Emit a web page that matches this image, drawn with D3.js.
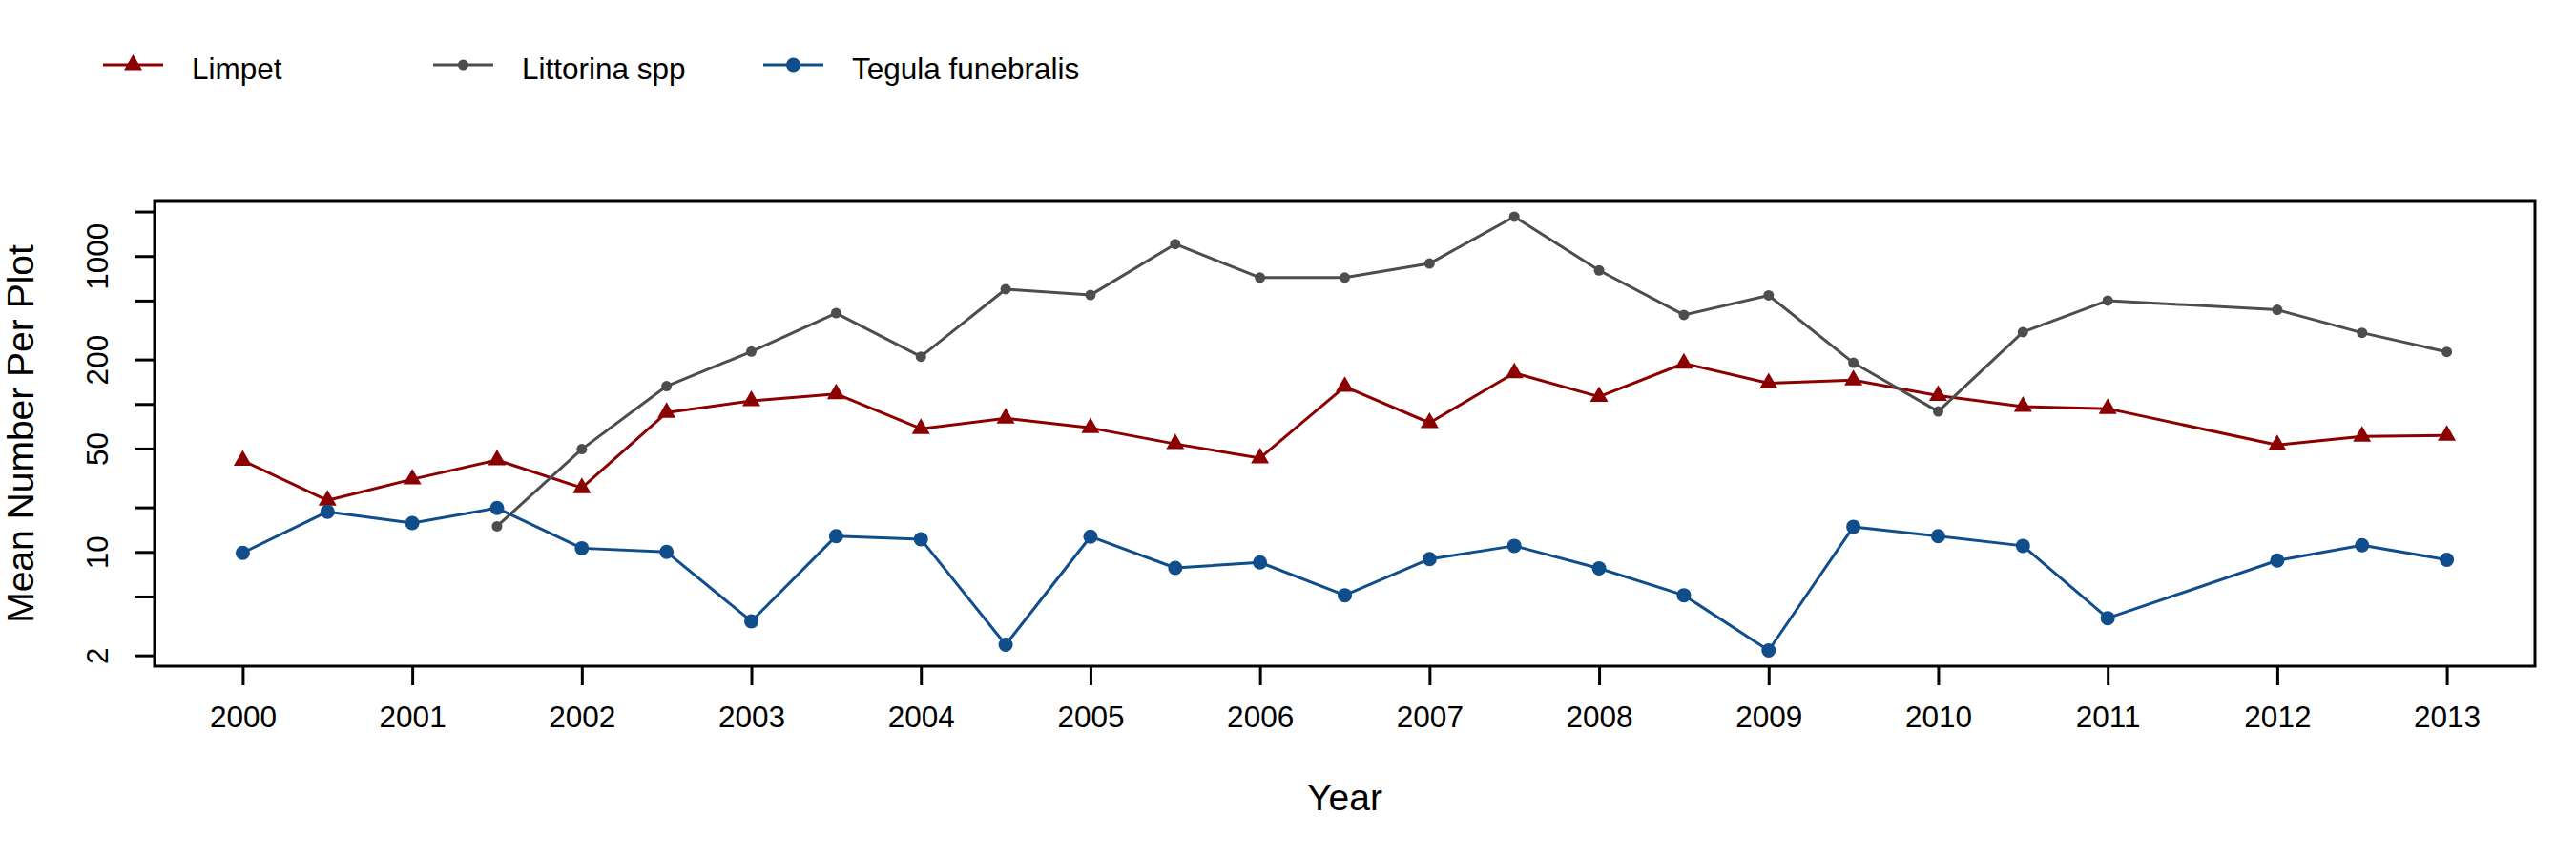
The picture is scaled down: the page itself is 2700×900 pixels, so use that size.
<!DOCTYPE html>
<html>
<head>
<meta charset="utf-8">
<script src="https://cdn.jsdelivr.net/npm/d3@7"></script>
<style>
  html, body { margin: 0; padding: 0; background: #ffffff; }
  svg { display: block; font-family: "Liberation Sans", Arial, sans-serif; }
</style>
</head>
<body>
<svg id="chart" width="2700" height="900"></svg>
<script>
// ---- data ----
const seriesNames = ["Limpet", "Littorina spp", "Tegula funebralis"];
const seriesColors = ["#8B0000", "#4D4D4D", "#104E8B"];

const limpetYears = [2000, 2000.5, 2001, 2001.5, 2002, 2002.5, 2003, 2003.5, 2004, 2004.5, 2005, 2005.5, 2006, 2006.5, 2007, 2007.5, 2008, 2008.5, 2009, 2009.5, 2010, 2010.5, 2011, 2012, 2012.5, 2013];
const limpetValues = [41.5, 22.3, 31, 41.8, 27.1, 87.5, 105, 117, 68, 80, 68.9, 53.7, 43.1, 131, 74.6, 162, 112, 188, 138, 145, 114, 96, 93, 52.8, 60.3, 61.2];

const littorinaYears = [2001.5, 2002, 2002.5, 2003, 2003.5, 2004, 2004.5, 2005, 2005.5, 2006, 2006.5, 2007, 2007.5, 2008, 2008.5, 2009, 2009.5, 2010, 2010.5, 2011, 2012, 2012.5, 2013];
const littorinaValues = [14.9, 49.5, 132, 226, 411, 209, 597, 545, 1205, 715, 715, 890, 1846, 800, 400, 542, 190, 89, 306, 500, 433, 303, 225];

const tegulaYears = [2000, 2000.5, 2001, 2001.5, 2002, 2002.5, 2003, 2003.5, 2004, 2004.5, 2005, 2005.5, 2006, 2006.5, 2007, 2007.5, 2008, 2008.5, 2009, 2009.5, 2010, 2010.5, 2011, 2012, 2012.5, 2013];
const tegulaValues = [9.86, 18.7, 15.7, 19.8, 10.6, 10, 3.4, 12.8, 12.2, 2.36, 12.7, 7.8, 8.5, 5.1, 8.96, 11, 7.74, 5.1, 2.16, 14.8, 12.8, 11, 3.57, 8.75, 11.1, 8.85];

const xTickValues = [2000, 2001, 2002, 2003, 2004, 2005, 2006, 2007, 2008, 2009, 2010, 2011, 2012, 2013];
const yTickValues = [2, 5, 10, 20, 50, 100, 200, 500, 1000, 2000];
const yTickLabels = [2, 10, 50, 200, 1000];

const xTitle = "Year";
const yTitle = "Mean Number Per Plot";

// ---- layout ----
const plot = { left: 162, right: 2657, top: 211, bottom: 698 };
const svg = d3.select("#chart");

const x = d3.scaleLinear().domain([1999.48, 2013.52]).range([plot.left, plot.right]);
const y = d3.scaleLog().domain([1.69, 2340]).range([plot.bottom, plot.top]);

const series = [
  { name: seriesNames[0], color: seriesColors[0], shape: "triangle", data: limpetYears.map((d, i) => ({ x: d, y: limpetValues[i] })) },
  { name: seriesNames[1], color: seriesColors[1], shape: "smallCircle", data: littorinaYears.map((d, i) => ({ x: d, y: littorinaValues[i] })) },
  { name: seriesNames[2], color: seriesColors[2], shape: "circle", data: tegulaYears.map((d, i) => ({ x: d, y: tegulaValues[i] })) }
];

// R-style pch 17 triangle (centroid-centered)
function trianglePath(s) {
  const r = 1.555 * s, yc = 0.778 * s, xc = 1.347 * s;
  return `M0,${-r}L${xc},${yc}L${-xc},${yc}Z`;
}
function drawMarker(g, shape, color) {
  if (shape === "triangle") {
    g.append("path").attr("d", trianglePath(7.05)).attr("fill", color);
  } else if (shape === "smallCircle") {
    g.append("circle").attr("r", 5.5).attr("fill", color);
  } else {
    g.append("circle").attr("r", 7.5).attr("fill", color);
  }
}

// ---- axes ----
const xAxis = d3.axisBottom(x).tickValues(xTickValues).tickFormat(d3.format("d")).tickSize(20).tickPadding(22);
const gx = svg.append("g").attr("transform", `translate(0,${plot.bottom})`).call(xAxis);
gx.select(".domain").remove();
gx.selectAll(".tick line").attr("stroke", "#000").attr("stroke-width", 3);
gx.selectAll(".tick text").attr("font-size", 31.5).attr("fill", "#000")
  .attr("font-family", "'Liberation Sans', Arial, sans-serif");

const yAxis = d3.axisLeft(y).tickValues(yTickValues)
  .tickFormat(d => yTickLabels.includes(d) ? String(d) : "").tickSize(20).tickPadding(0);
const gy = svg.append("g").attr("transform", `translate(${plot.left},0)`).call(yAxis);
gy.select(".domain").remove();
gy.selectAll(".tick line").attr("stroke", "#000").attr("stroke-width", 3);
gy.selectAll(".tick text")
  .attr("font-size", 31.5).attr("fill", "#000")
  .attr("font-family", "'Liberation Sans', Arial, sans-serif")
  .attr("text-anchor", "middle")
  .attr("dy", "0")
  .attr("x", 0)
  .attr("transform", "translate(-49,0) rotate(-90)")
  .attr("y", 0);

// ---- series ----
const line = d3.line().x(d => x(d.x)).y(d => y(d.y));
series.forEach(s => {
  svg.append("path").datum(s.data).attr("d", line)
    .attr("fill", "none").attr("stroke", s.color).attr("stroke-width", 3)
    .attr("stroke-linejoin", "round");
  s.data.forEach(d => {
    const g = svg.append("g").attr("transform", `translate(${x(d.x)},${y(d.y)})`);
    drawMarker(g, s.shape, s.color);
  });
});

// ---- box ----
svg.append("rect")
  .attr("x", plot.left).attr("y", plot.top)
  .attr("width", plot.right - plot.left).attr("height", plot.bottom - plot.top)
  .attr("fill", "none").attr("stroke", "#000").attr("stroke-width", 3);

// ---- titles ----
svg.append("text").attr("x", (plot.left + plot.right) / 2).attr("y", 849)
  .attr("text-anchor", "middle").attr("font-size", 39).attr("fill", "#000").text(xTitle);
svg.append("text")
  .attr("transform", `translate(35,${(plot.top + plot.bottom) / 2}) rotate(-90)`)
  .attr("text-anchor", "middle").attr("font-size", 39).attr("fill", "#000").text(yTitle);

// ---- legend ----
const legendX = [108, 454, 800];
const legend = svg.append("g");
series.forEach((s, i) => {
  const g = legend.append("g").attr("transform", `translate(${legendX[i]},68)`);
  g.append("line").attr("x1", 0).attr("x2", 63).attr("y1", 0).attr("y2", 0)
    .attr("stroke", s.color).attr("stroke-width", 3);
  const m = g.append("g").attr("transform", "translate(31.5,0)");
  drawMarker(m, s.shape, s.color);
  g.append("text").attr("x", 93).attr("y", 15).attr("font-size", 31.5).attr("fill", "#000").text(s.name);
});
</script>
</body>
</html>
